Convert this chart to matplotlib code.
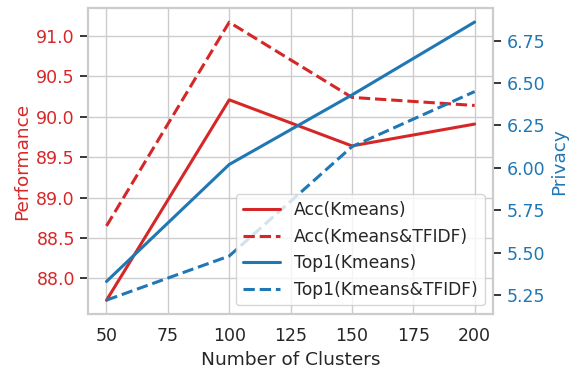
import matplotlib
matplotlib.use("Agg")
import matplotlib.pyplot as plt
import seaborn as sns

clusters = [50, 100, 150, 200]
acc_kmeans = [87.73, 90.21, 89.64, 89.91]
acc_kmeans_tfidf = [88.65, 91.17, 90.24, 90.14]
top1_kmeans = [5.33, 6.02, 6.43, 6.86]
top1_kmeans_tfidf = [5.22, 5.48, 6.125, 6.45]

sns.set_theme(style="whitegrid")
plt.rcParams['font.family'] = ['DejaVu Sans']

red = "#d62728"
blue = "#1f77b4"

fig = plt.figure(figsize=(5.72, 3.69), dpi=100)
ax = fig.add_axes([0.154, 0.149, 0.708, 0.828])
ax2 = ax.twinx()

l1, = ax.plot(clusters, acc_kmeans, color=red, lw=2.2, label="Acc(Kmeans)")
l2, = ax.plot(clusters, acc_kmeans_tfidf, color=red, lw=2.2, ls="--", label="Acc(Kmeans&TFIDF)")
l3, = ax2.plot(clusters, top1_kmeans, color=blue, lw=2.2, label="Top1(Kmeans)")
l4, = ax2.plot(clusters, top1_kmeans_tfidf, color=blue, lw=2.2, ls="--", label="Top1(Kmeans&TFIDF)")

ax.set_xlim(42.5, 207.5)
ax.set_ylim(87.56, 91.34)
ax2.set_ylim(5.138, 6.94)
ax.set_xticks([50, 75, 100, 125, 150, 175, 200])
ax.set_yticks([88.0, 88.5, 89.0, 89.5, 90.0, 90.5, 91.0])
ax2.set_yticks([5.25, 5.5, 5.75, 6.0, 6.25, 6.5, 6.75])
ax.set_yticklabels([f"{v:.1f}" for v in [88.0, 88.5, 89.0, 89.5, 90.0, 90.5, 91.0]])
ax2.set_yticklabels([f"{v:.2f}" for v in [5.25, 5.5, 5.75, 6.0, 6.25, 6.5, 6.75]])
ax2.grid(False)

ax.set_xlabel("Number of Clusters", fontsize=13.3, color="#262626")
ax.set_ylabel("Performance", fontsize=13.3, color=red)
ax2.set_ylabel("Privacy", fontsize=13.3, color=blue)

ax.tick_params(axis='y', labelcolor=red, labelsize=12.5, left=True, length=6, width=1.3, color='#262626')
ax.tick_params(axis='x', labelsize=12.5, labelcolor="#262626", bottom=False)
ax2.tick_params(axis='y', labelcolor=blue, labelsize=12.5, right=True, length=6, width=1.3, color='#262626')

for a in (ax, ax2):
    for s in a.spines.values():
        s.set_color("#cccccc")
        s.set_linewidth(1.5)

leg = ax2.legend(handles=[l1, l2, l3, l4], loc="lower right", fontsize=12.3,
                 frameon=True, borderaxespad=0.5, handlelength=2.2)
leg.get_frame().set_edgecolor("#cccccc")
for t in leg.get_texts():
    t.set_color("#262626")

fig.savefig("out.png", dpi=100)
